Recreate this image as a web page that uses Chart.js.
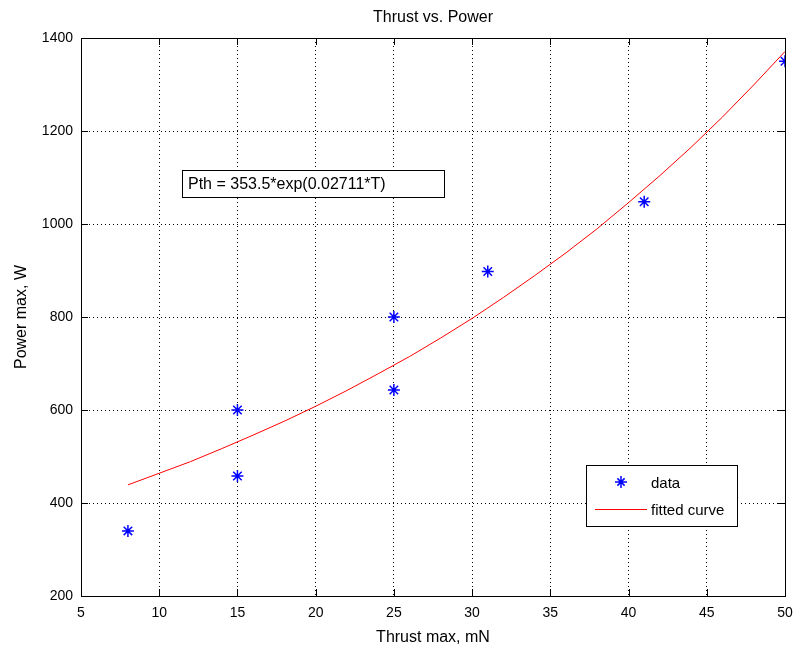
<!DOCTYPE html>
<html>
<head>
<meta charset="utf-8">
<script src="https://cdn.jsdelivr.net/npm/chart.js@4"></script>
<style>
  html, body { margin: 0; padding: 0; background: #fff; }
  #wrap { width: 795px; height: 651px; }
</style>
</head>
<body>
<div id="wrap"><canvas id="grafico" width="795" height="651"></canvas></div>
<script>
// measured data (Thrust max mN, Power max W)
const thrustData = [8, 15, 15, 25, 25, 31, 41, 50];
const powerData = [340, 600, 458, 800, 643, 898, 1048, 1350];

// fitted curve
const thrustFit = [8, 10, 12, 14, 16, 18, 20, 22, 24, 26, 28, 30, 32, 34, 36, 38, 40, 42, 44, 46, 48, 50];
const powerFit = [439, 464, 489, 517, 546, 576, 608, 642, 678, 715, 755, 797, 842, 889, 938, 990, 1046, 1104, 1165, 1230, 1299, 1371];

const xTicks = [5, 10, 15, 20, 25, 30, 35, 40, 45, 50];
const yTicks = [200, 400, 600, 800, 1000, 1200, 1400];

const fuente = '"Liberation Sans", Arial, sans-serif';

const puntos = (xs, ys) => xs.map((x, i) => ({ x: x, y: ys[i] }));

// marco, ticks hacia dentro, titulo, caja de texto y leyenda
const estiloMatlab = {
    id: 'estiloMatlab',
    afterDraw(chart) {
        const { ctx, chartArea: a, scales } = chart;
        ctx.save();
        ctx.strokeStyle = '#000';
        ctx.lineWidth = 1;
        ctx.beginPath();
        xTicks.forEach(t => {
            const px = Math.round(scales.x.getPixelForValue(t)) + 0.5;
            ctx.moveTo(px, a.bottom); ctx.lineTo(px, a.bottom - 7);
            ctx.moveTo(px, a.top); ctx.lineTo(px, a.top + 7);
        });
        yTicks.forEach(t => {
            const py = Math.round(scales.y.getPixelForValue(t)) + 0.5;
            ctx.moveTo(a.left, py); ctx.lineTo(a.left + 7, py);
            ctx.moveTo(a.right, py); ctx.lineTo(a.right - 7, py);
        });
        ctx.stroke();
        ctx.strokeRect(Math.round(a.left) + 0.5, Math.round(a.top) + 0.5,
            Math.round(a.right - a.left), Math.round(a.bottom - a.top));

        // titulo
        ctx.fillStyle = '#000';
        ctx.font = '16px ' + fuente;
        ctx.textAlign = 'center';
        ctx.textBaseline = 'middle';
        ctx.fillText('Thrust vs. Power', (a.left + a.right) / 2, 18);

        // caja con la ecuacion
        ctx.fillStyle = '#fff';
        ctx.fillRect(182.5, 170.5, 262, 27);
        ctx.strokeRect(182.5, 170.5, 262, 27);
        ctx.fillStyle = '#000';
        ctx.font = '16px ' + fuente;
        ctx.textAlign = 'left';
        ctx.fillText('Pth = 353.5*exp(0.02711*T)', 188, 185);

        // leyenda
        ctx.fillStyle = '#fff';
        ctx.fillRect(586.5, 465.5, 151, 61);
        ctx.strokeRect(586.5, 465.5, 151, 61);
        ctx.strokeStyle = '#0000ff';
        ctx.lineWidth = 1.5;
        ctx.beginPath();
        const cx = 621, cy = 482, r = 6;
        ctx.moveTo(cx - r, cy); ctx.lineTo(cx + r, cy);
        ctx.moveTo(cx, cy - r); ctx.lineTo(cx, cy + r);
        const d = r * 0.6;
        ctx.moveTo(cx - d, cy - d); ctx.lineTo(cx + d, cy + d);
        ctx.moveTo(cx - d, cy + d); ctx.lineTo(cx + d, cy - d);
        ctx.stroke();
        ctx.strokeStyle = '#ff0000';
        ctx.lineWidth = 1;
        ctx.beginPath();
        ctx.moveTo(595, 509.5); ctx.lineTo(647, 509.5);
        ctx.stroke();
        ctx.fillStyle = '#000';
        ctx.font = '15px ' + fuente;
        ctx.fillText('data', 651, 484);
        ctx.fillText('fitted curve', 651, 511);
        ctx.restore();
    }
};

const ctx = document.getElementById('grafico').getContext('2d');
const miGrafico = new Chart(ctx, {
    type: 'scatter',
    data: {
        datasets: [
            {
                label: 'data',
                data: puntos(thrustData, powerData),
                pointStyle: 'star',
                pointRadius: 6,
                borderColor: '#0000ff',
                backgroundColor: '#0000ff',
                borderWidth: 1.5,
                showLine: false,
                order: 1
            },
            {
                label: 'fitted curve',
                data: puntos(thrustFit, powerFit),
                showLine: true,
                borderColor: '#ff0000',
                borderWidth: 1,
                pointRadius: 0,
                tension: 0,
                order: 2
            }
        ]
    },
    options: {
        responsive: false,
        animation: false,
        layout: { padding: { top: 38, right: 10, left: 0, bottom: 0 } },
        plugins: {
            legend: { display: false },
            title: { display: false },
            tooltip: { enabled: false }
        },
        scales: {
            x: {
                type: 'linear',
                min: 5,
                max: 50,
                afterBuildTicks: s => { s.ticks = xTicks.map(v => ({ value: v })); },
                afterFit: s => { s.height = 55; s.paddingRight = 0; s.paddingLeft = 0; },
                grid: { color: '#000', lineWidth: 1, drawTicks: false },
                border: { display: false, dash: [1, 3] },
                ticks: { color: '#000', padding: 9, font: { family: fuente, size: 14 }, maxRotation: 0, callback: v => String(v) },
                title: { display: true, text: 'Thrust max, mN', color: '#000', font: { family: fuente, size: 16 }, padding: { top: 2 } }
            },
            y: {
                type: 'linear',
                min: 200,
                max: 1400,
                afterBuildTicks: s => { s.ticks = yTicks.map(v => ({ value: v })); },
                afterFit: s => { s.width = 81; s.paddingTop = 0; s.paddingBottom = 0; },
                grid: { color: '#000', lineWidth: 1, drawTicks: false },
                border: { display: false, dash: [1, 3] },
                ticks: { color: '#000', padding: 8, font: { family: fuente, size: 14 }, callback: v => String(v) },
                title: { display: true, text: 'Power max, W', color: '#000', font: { family: fuente, size: 16 }, padding: { top: 12, bottom: 0 } }
            }
        }
    },
    plugins: [estiloMatlab]
});
</script>
</body>
</html>
